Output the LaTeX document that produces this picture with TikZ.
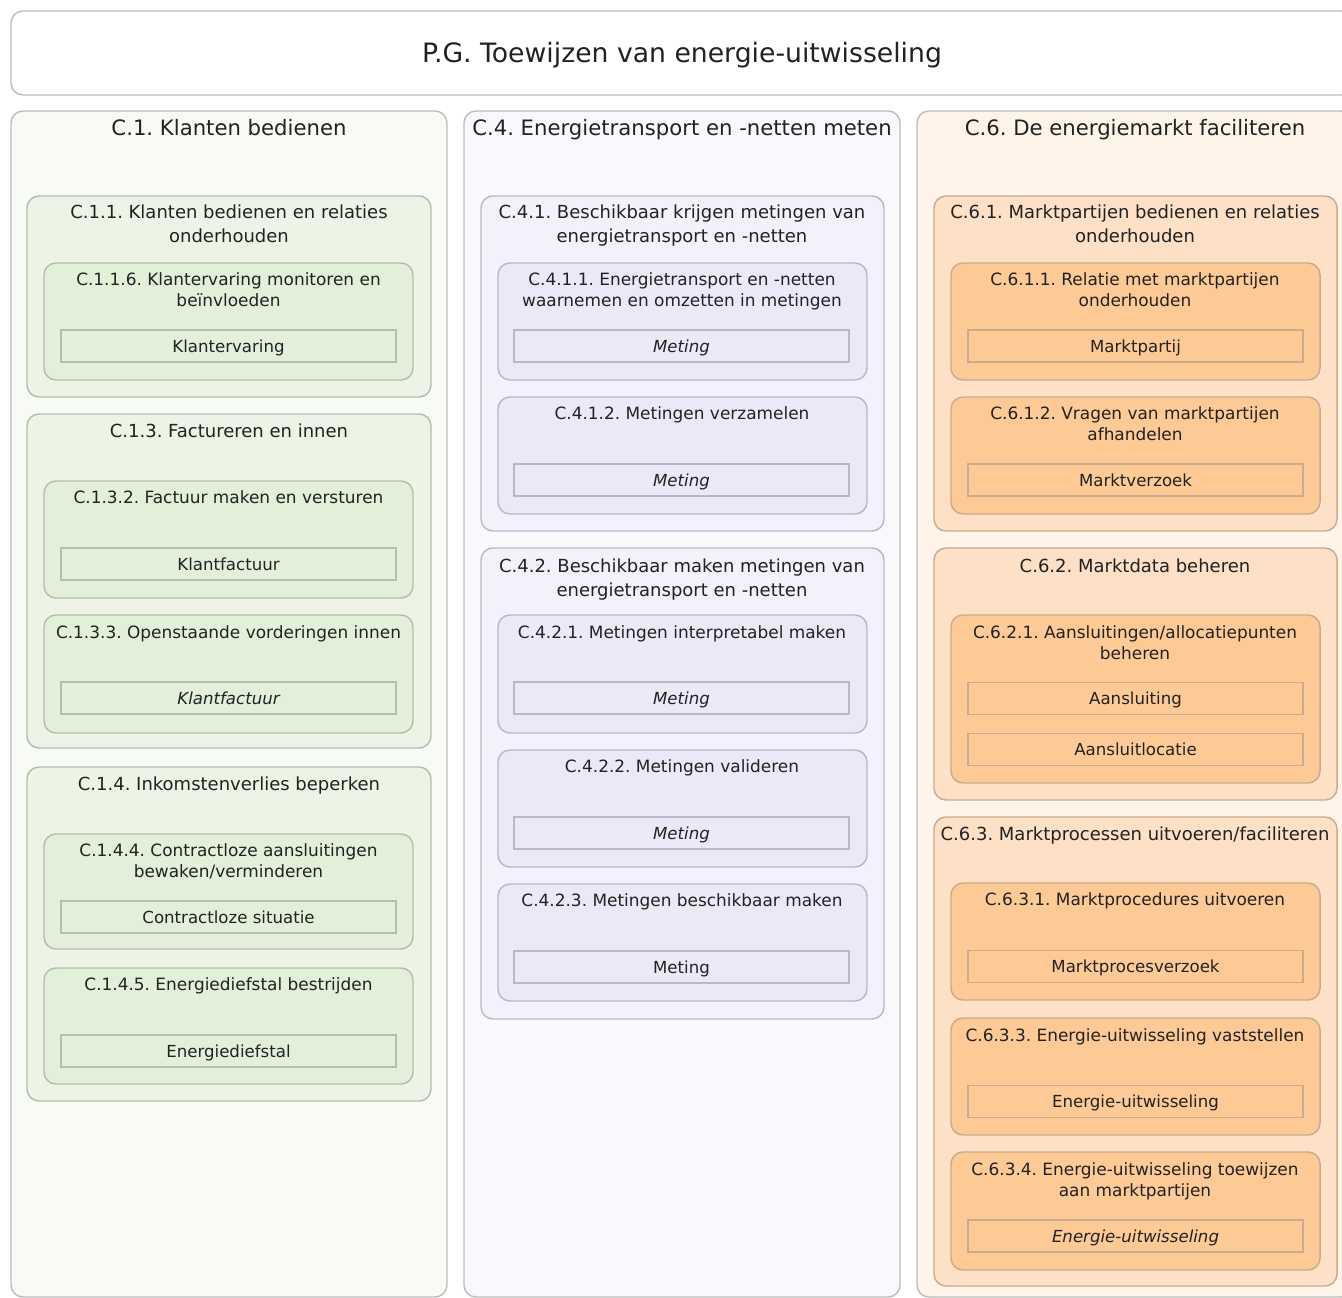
\documentclass[tikz,border=0pt]{standalone}
\usepackage{fontspec}
\setmainfont{DejaVu Sans}
\usetikzlibrary{fit}
\frenchspacing
\definecolor{ink}{HTML}{222222}
\definecolor{rimgray}{HTML}{BDBDBD}
\definecolor{colA}{HTML}{F8FAF5}
\definecolor{grpA}{HTML}{EEF4E5}
\definecolor{leafA}{HTML}{E2EFD9}
\definecolor{rimA}{HTML}{B5BDAC}
\definecolor{colB}{HTML}{F9F9FD}
\definecolor{grpB}{HTML}{F3F2FC}
\definecolor{leafB}{HTML}{EBE9F7}
\definecolor{rimB}{HTML}{BAB8C8}
\definecolor{colC}{HTML}{FEF4EA}
\definecolor{grpC}{HTML}{FDE0C5}
\definecolor{leafC}{HTML}{FDCA96}
\definecolor{rimC}{HTML}{C9AB8F}

\begin{document}
\begin{tikzpicture}[x=.75pt,y=-.75pt,line width=1.1pt,text=ink,
  box/.style={rounded corners=9pt,inner sep=0pt},
  topbox/.style={box,draw=rimgray,fill=white},
  colboxA/.style={box,draw=rimgray,fill=colA},
  colboxB/.style={box,draw=rimgray,fill=colB},
  colboxC/.style={box,draw=rimgray,fill=colC},
  grpboxA/.style={box,draw=rimA,fill=grpA},
  grpboxB/.style={box,draw=rimB,fill=grpB},
  grpboxC/.style={box,draw=rimC,fill=grpC},
  leafboxA/.style={box,draw=rimA,fill=leafA},
  leafboxB/.style={box,draw=rimB,fill=leafB},
  leafboxC/.style={box,draw=rimC,fill=leafC},
  item/.style={minimum width=251.25pt,minimum height=24pt,inner sep=0pt,
    text height=9pt,text depth=0pt,font=\fontsize{12.45}{15}\selectfont},
  itemA/.style={item,draw=rimA,fill=leafA},
  itemB/.style={item,draw=rimB,fill=leafB},
  itemC/.style={item,draw=rimC,fill=leafC},
  toptxt/.style={anchor=base,font=\fontsize{20}{24}\selectfont},
  coltxt/.style={anchor=base,font=\fontsize{15.9}{20}\selectfont},
  % two-line titles are placed by the baseline of their last line
  grptxt/.style={anchor=base,align=center,inner sep=0pt,font=\fontsize{13.5}{18}\selectfont},
  leaftxt/.style={anchor=base,align=center,inner sep=0pt,font=\fontsize{12.7}{15.75}\selectfont}]
  \clip (0,0) rectangle (1342,1298);

  % title
  \node[topbox,fit={(11,11) (1353,95)}] (pg) {};
  \node[toptxt] (pgt) at (682,62.5) {P.G. Toewijzen van energie-uitwisseling};

  % columns
  \node[colboxA,fit={(11,111) (447,1297)}] (c1) {};
  \node[coltxt] (c1t) at (229,136) {C.1. Klanten bedienen};
  \node[colboxB,fit={(464,111) (900,1297)}] (c4) {};
  \node[coltxt] (c4t) at (682,136) {C.4. Energietransport en -netten meten};
  \node[colboxC,fit={(917,111) (1353,1297)}] (c6) {};
  \node[coltxt] (c6t) at (1135,136) {C.6. De energiemarkt faciliteren};

  % C.1
  \node[grpboxA,fit={(27,196) (431,397)}] (c11) {};
  \node[grptxt] (c11t) at (229,243) {C.1.1. Klanten bedienen en relaties\\onderhouden};
  \node[leafboxA,fit={(44,263) (413,380)}] (c116) {};
  \node[leaftxt] (c116t) at (228.5,306) {C.1.1.6. Klantervaring monitoren en\\beïnvloeden};
  \node[itemA] (klantervaring) at (228.5,346) {Klantervaring};

  \node[grpboxA,fit={(27,414) (431,748)}] (c13) {};
  \node[grptxt] (c13t) at (229,437) {C.1.3. Factureren en innen};
  \node[leafboxA,fit={(44,481) (413,598)}] (c132) {};
  \node[leaftxt] (c132t) at (228.5,503) {C.1.3.2. Factuur maken en versturen};
  \node[itemA] (klantfactuur) at (228.5,564) {Klantfactuur};
  \node[leafboxA,fit={(44,615) (413,733)}] (c133) {};
  \node[leaftxt] (c133t) at (228.5,638) {C.1.3.3. Openstaande vorderingen innen};
  \node[itemA] (klantfactuur2) at (228.5,698) {\itshape Klantfactuur};

  \node[grpboxA,fit={(27,767) (431,1101)}] (c14) {};
  \node[grptxt] (c14t) at (229,790) {C.1.4. Inkomstenverlies beperken};
  \node[leafboxA,fit={(44,834) (413,949)}] (c144) {};
  \node[leaftxt] (c144t) at (228.5,877) {C.1.4.4. Contractloze aansluitingen\\bewaken/verminderen};
  \node[itemA] (contractloos) at (228.5,917) {Contractloze situatie};
  \node[leafboxA,fit={(44,968) (413,1084)}] (c145) {};
  \node[leaftxt] (c145t) at (228.5,990) {C.1.4.5. Energiediefstal bestrijden};
  \node[itemA] (diefstal) at (228.5,1051) {Energiediefstal};

  % C.4
  \node[grpboxB,fit={(481,196) (884,531)}] (c41) {};
  \node[grptxt] (c41t) at (682,243) {C.4.1. Beschikbaar krijgen metingen van\\energietransport en -netten};
  \node[leafboxB,fit={(498,263) (867,380)}] (c411) {};
  \node[leaftxt] (c411t) at (682,306) {C.4.1.1. Energietransport en -netten\\waarnemen en omzetten in metingen};
  \node[itemB] (meting1) at (681.5,346) {\itshape Meting};
  \node[leafboxB,fit={(498,397) (867,514)}] (c412) {};
  \node[leaftxt] (c412t) at (682,419) {C.4.1.2. Metingen verzamelen};
  \node[itemB] (meting2) at (681.5,480) {\itshape Meting};

  \node[grpboxB,fit={(481,548) (884,1019)}] (c42) {};
  \node[grptxt] (c42t) at (682,596) {C.4.2. Beschikbaar maken metingen van\\energietransport en -netten};
  \node[leafboxB,fit={(498,615) (867,733)}] (c421) {};
  \node[leaftxt] (c421t) at (682,638) {C.4.2.1. Metingen interpretabel maken};
  \node[itemB] (meting3) at (681.5,698) {\itshape Meting};
  \node[leafboxB,fit={(498,750) (867,867)}] (c422) {};
  \node[leaftxt] (c422t) at (682,772) {C.4.2.2. Metingen valideren};
  \node[itemB] (meting4) at (681.5,833) {\itshape Meting};
  \node[leafboxB,fit={(498,884) (867,1001)}] (c423) {};
  \node[leaftxt] (c423t) at (682,906) {C.4.2.3. Metingen beschikbaar maken};
  \node[itemB] (meting5) at (681.5,967) {Meting};

  % C.6
  \node[grpboxC,fit={(934,196) (1337,531)}] (c61) {};
  \node[grptxt] (c61t) at (1135,243) {C.6.1. Marktpartijen bedienen en relaties\\onderhouden};
  \node[leafboxC,fit={(951,263) (1320,380)}] (c611) {};
  \node[leaftxt] (c611t) at (1135,306) {C.6.1.1. Relatie met marktpartijen\\onderhouden};
  \node[itemC] (marktpartij) at (1135.5,346) {Marktpartij};
  \node[leafboxC,fit={(951,397) (1320,514)}] (c612) {};
  \node[leaftxt] (c612t) at (1135,440) {C.6.1.2. Vragen van marktpartijen\\afhandelen};
  \node[itemC] (marktverzoek) at (1135.5,480) {Marktverzoek};

  \node[grpboxC,fit={(934,548) (1337,800)}] (c62) {};
  \node[grptxt] (c62t) at (1135,572) {C.6.2. Marktdata beheren};
  \node[leafboxC,fit={(951,615) (1320,783)}] (c621) {};
  \node[leaftxt] (c621t) at (1135,659) {C.6.2.1. Aansluitingen/allocatiepunten\\beheren};
  \node[itemC] (aansluiting) at (1135.5,698.5) {Aansluiting};
  \node[itemC] (aansluitlocatie) at (1135.5,749.5) {Aansluitlocatie};

  \node[grpboxC,fit={(934,817) (1337,1286)}] (c63) {};
  \node[grptxt] (c63t) at (1135,840) {C.6.3. Marktprocessen uitvoeren/faciliteren};
  \node[leafboxC,fit={(951,883) (1320,1000)}] (c631) {};
  \node[leaftxt] (c631t) at (1135,905) {C.6.3.1. Marktprocedures uitvoeren};
  \node[itemC] (procesverzoek) at (1135.5,966.5) {Marktprocesverzoek};
  \node[leafboxC,fit={(951,1018) (1320,1135)}] (c633) {};
  \node[leaftxt] (c633t) at (1135,1041) {C.6.3.3. Energie-uitwisseling vaststellen};
  \node[itemC] (uitwisseling1) at (1135.5,1101.5) {Energie-uitwisseling};
  \node[leafboxC,fit={(951,1152) (1320,1270)}] (c634) {};
  \node[leaftxt] (c634t) at (1135,1196) {C.6.3.4. Energie-uitwisseling toewijzen\\aan marktpartijen};
  \node[itemC] (uitwisseling2) at (1135.5,1236) {\itshape Energie-uitwisseling};
\end{tikzpicture}
\end{document}
